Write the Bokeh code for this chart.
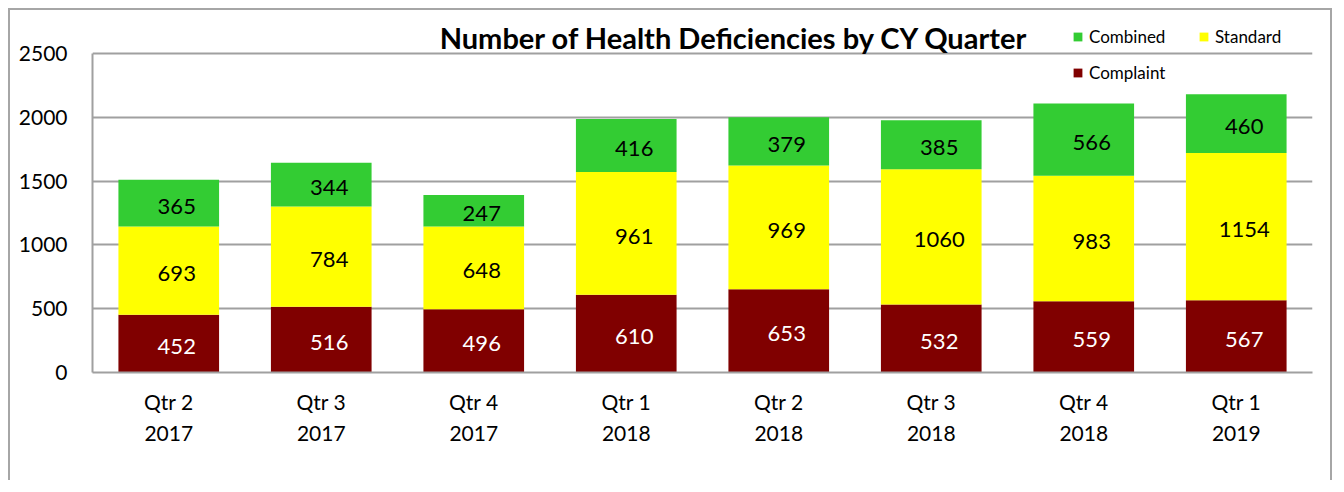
from bokeh.plotting import figure
from bokeh.models import ColumnDataSource, Legend, LegendItem, FixedTicker, Label
from bokeh.core.properties import value
from bokeh.embed import file_html
from bokeh.resources import INLINE

quarters = ["Qtr 2\n2017", "Qtr 3\n2017", "Qtr 4\n2017", "Qtr 1\n2018",
            "Qtr 2\n2018", "Qtr 3\n2018", "Qtr 4\n2018", "Qtr 1\n2019"]
complaint = [452, 516, 496, 610, 653, 532, 559, 567]
standard = [693, 784, 648, 961, 969, 1060, 983, 1154]
combined = [365, 344, 247, 416, 379, 385, 566, 460]
y_ticks = [0, 500, 1000, 1500, 2000, 2500]
title_text = "Number of Health Deficiencies by CY Quarter"

FONT = "Lato"
C_COMPLAINT = "#800000"
C_STANDARD = "#FFFF00"
C_COMBINED = "#33CC33"

src = ColumnDataSource(dict(
    q=quarters, complaint=complaint, standard=standard, combined=combined,
    c_mid=[c / 2 for c in complaint],
    s_mid=[c + s / 2 for c, s in zip(complaint, standard)],
    b_mid=[c + s + b / 2 for c, s, b in zip(complaint, standard, combined)],
    c_txt=[str(v) for v in complaint],
    s_txt=[str(v) for v in standard],
    b_txt=[str(v) for v in combined],
))

p = figure(x_range=quarters, y_range=(0, 2837), width=1324, height=472,
           output_backend="svg", toolbar_location=None,
           min_border_left=82, min_border_right=22, min_border_top=0,
           min_border_bottom=110)
p.styles = {"border-top": "2px solid #a6a6a6", "border-left": "2px solid #a6a6a6",
            "border-right": "2px solid #a6a6a6",
            "margin-left": "8px", "margin-top": "8px"}

r = p.vbar_stack(["complaint", "standard", "combined"], x="q", width=0.66,
                 source=src, color=[C_COMPLAINT, C_STANDARD, C_COMBINED],
                 line_color=None)

for col, txt, colr in (("c_mid", "c_txt", "white"), ("s_mid", "s_txt", "black"),
                       ("b_mid", "b_txt", "black")):
    p.text(x="q", y=col, text=txt, source=src, text_color=colr,
           text_align="center", text_baseline="middle", x_offset=8, y_offset=3,
           text_font=value(FONT), text_font_size="22px")

title = Label(text=title_text, x=642, y=335, x_units="screen", y_units="screen",
              text_align="center", text_baseline="alphabetic",
              text_font=FONT, text_font_size="29px", text_font_style="bold",
              text_color="black")
p.add_layout(title)

legend = Legend(items=[LegendItem(label="Combined", renderers=[r[2]]),
                       LegendItem(label="Standard", renderers=[r[1]]),
                       LegendItem(label="Complaint", renderers=[r[0]])],
                location=(980, 289), orientation="horizontal", ncols=2,
                glyph_width=11, glyph_height=11, label_standoff=6,
                label_width=94, label_height=20, spacing=15, padding=0, margin=0,
                border_line_color=None, background_fill_color=None,
                label_text_font=FONT, label_text_font_size="17px",
                label_text_color="black")
p.add_layout(legend, "center")

p.xgrid.grid_line_color = None
p.ygrid.grid_line_color = "#a0a0a0"
p.ygrid.grid_line_width = 2
p.yaxis.ticker = FixedTicker(ticks=y_ticks)
p.yaxis.bounds = (0, 2500)
p.outline_line_color = None

for ax in (p.xaxis[0], p.yaxis[0]):
    ax.axis_line_color = "#a0a0a0"
    ax.axis_line_width = 2
    ax.major_tick_line_color = None
    ax.minor_tick_line_color = None
    ax.major_tick_out = 0
    ax.major_tick_in = 0
    ax.minor_tick_out = 0
    ax.major_label_text_font = FONT
    ax.major_label_text_font_size = "21px"
    ax.major_label_text_color = "black"

p.yaxis.major_label_standoff = 25
p.xaxis.major_label_standoff = 16
p.xaxis.major_label_text_line_height = 1.25

open("out.html", "w").write(file_html(p, INLINE))
